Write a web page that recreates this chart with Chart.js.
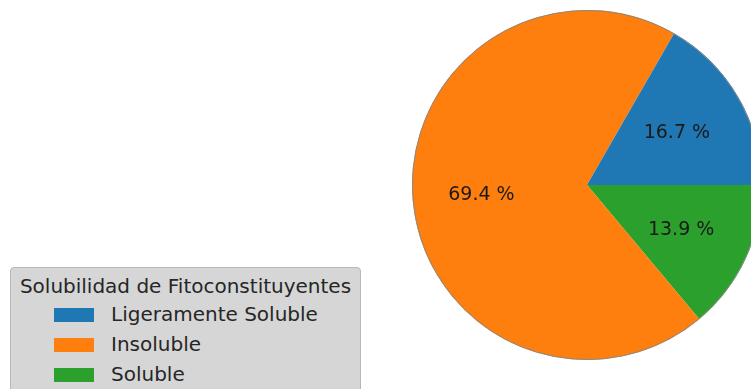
<!DOCTYPE html>
<html lang="es">
<head>
    <meta charset="UTF-8">
    <title>Solubilidad de Fitoconstituyentes</title>
    <script src="https://cdn.jsdelivr.net/npm/chart.js"></script>
    <style>
        html, body { margin: 0; padding: 0; background: #fff; width: 751px; height: 389px; overflow: hidden; position: relative; }
        #wrap { position: absolute; left: 412px; top: 10px; width: 350px; height: 350px; }
        #legend {
            position: absolute; left: 10px; top: 267px; width: 349px; height: 140px;
            background: #d6d6d6; border: 1px solid #b8b8b8; border-radius: 4px;
            font-family: "DejaVu Sans", sans-serif; font-size: 20px; color: #262626;
        }
        #legend .title { position: absolute; left: 0; right: 0; top: 6px; text-align: center; white-space: nowrap; }
        #legend .row { position: absolute; left: 43px; height: 24px; white-space: nowrap; }
        #legend .box { position: absolute; left: 0; top: 5px; width: 40px; height: 14px; }
        #legend .txt { position: absolute; left: 57px; top: -1px; }
    </style>
</head>
<body>
    <div id="wrap"><canvas id="pie" width="350" height="350"></canvas></div>
    <div id="legend"></div>

    <script>
        // datos de la grafica
        const categorias = ["Ligeramente Soluble", "Insoluble", "Soluble"];
        const valores = [16.7, 69.4, 13.9];
        const colores = ["#1f77b4", "#ff7f0e", "#2ca02c"];
        const tituloLeyenda = "Solubilidad de Fitoconstituyentes";

        // matplotlib dibuja antihorario desde las 3; chart.js va en sentido horario,
        // asi que se invierte el orden y se arranca en las 3
        const labelsPie = categorias.slice().reverse();
        const dataPie = valores.slice().reverse();
        const colorPie = colores.slice().reverse();

        const pctLabels = {
            id: "pctLabels",
            afterDatasetsDraw(chart) {
                const ctx = chart.ctx;
                const meta = chart.getDatasetMeta(0);
                const total = dataPie.reduce((a, b) => a + b, 0);
                ctx.save();
                // borde exterior gris
                const a0 = meta.data[0];
                ctx.beginPath();
                ctx.arc(a0.x, a0.y, a0.outerRadius - 0.5, 0, Math.PI * 2);
                ctx.strokeStyle = "#8a8a8a";
                ctx.lineWidth = 1;
                ctx.stroke();

                ctx.font = "19px 'DejaVu Sans'";
                ctx.fillStyle = "#1a1a1a";
                ctx.textAlign = "center";
                ctx.textBaseline = "middle";
                meta.data.forEach((arc, i) => {
                    const mid = (arc.startAngle + arc.endAngle) / 2;
                    const r = arc.outerRadius * 0.6;
                    const x = arc.x + Math.cos(mid) * r;
                    const y = arc.y + Math.sin(mid) * r;
                    const pct = dataPie[i] / total * 100;
                    ctx.fillText(pct.toFixed(1) + " %", x - 1, y + 1);
                });
                ctx.restore();
            }
        };

        new Chart(document.getElementById("pie"), {
            type: "pie",
            data: {
                labels: labelsPie,
                datasets: [{
                    data: dataPie,
                    backgroundColor: colorPie,
                    borderWidth: 0
                }]
            },
            options: {
                responsive: false,
                animation: false,
                rotation: 90,
                layout: { padding: 0 },
                plugins: {
                    legend: { display: false },
                    tooltip: { enabled: false }
                }
            },
            plugins: [pctLabels]
        });

        // leyenda
        const leg = document.getElementById("legend");
        const t = document.createElement("div");
        t.className = "title";
        t.textContent = tituloLeyenda;
        leg.appendChild(t);
        categorias.forEach((c, i) => {
            const row = document.createElement("div");
            row.className = "row";
            row.style.top = (35 + i * 30) + "px";
            row.innerHTML = '<span class="box" style="background:' + colores[i] + '"></span><span class="txt">' + c + '</span>';
            leg.appendChild(row);
        });
    </script>
</body>
</html>
